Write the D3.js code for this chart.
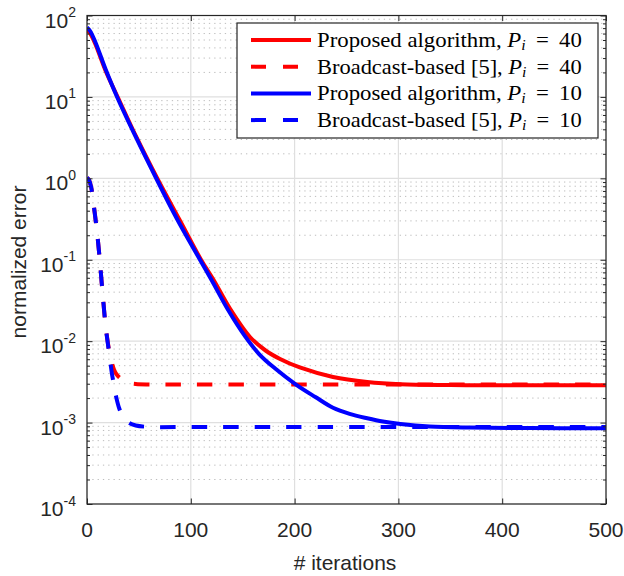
<!DOCTYPE html>
<html>
<head>
<meta charset="utf-8">
<script src="https://cdn.jsdelivr.net/npm/d3@7"></script>
<style>
  body { margin: 0; background: #fff; }
  text { font-family: "Liberation Sans", Arial, sans-serif; fill: #262626; }
  .legend text { font-family: "Liberation Serif", "Times New Roman", serif; fill: #000; }
</style>
</head>
<body>
<svg id="chart" width="624" height="576"></svg>
<script>
// proposed algorithm, P_i = 40 (red solid)
const propIter40 = [0, 3, 8, 18, 30, 48, 68, 89, 110, 122, 138, 157, 172, 186, 205, 237, 270, 302, 350, 398, 500];
const propErr40 = [66.4, 60.1, 44.7, 20.8, 9.7, 3.13, 0.981, 0.312, 0.0993, 0.0564, 0.0248, 0.01125, 0.00768, 0.00604, 0.00475, 0.00363, 0.00315, 0.00295, 0.00289, 0.00288, 0.00287];

// proposed algorithm, P_i = 10 (blue solid)
const propIter10 = [0, 3, 8, 18, 29, 47, 67, 87, 109, 120, 136, 152, 166, 181, 201, 220, 237, 253, 270, 285, 302, 330, 369, 427, 500];
const propErr10 = [71.3, 64.5, 47.3, 21.7, 9.98, 3.22, 0.981, 0.312, 0.0993, 0.0564, 0.0241, 0.0116, 0.0069, 0.00464, 0.00295, 0.00206, 0.00152, 0.00128, 0.00113, 0.00103, 0.00096, 0.000895, 0.000868, 0.000856, 0.000853];

// broadcast-based [5] curves, both P_i
const bcIter = [0, 2, 4, 6, 8, 10, 12, 14, 16, 18, 20, 22, 24, 26, 28, 31, 35, 40, 47, 60, 100, 500];
const bcErr40 = [1.02, 0.95, 0.78, 0.52, 0.33, 0.2, 0.11, 0.055, 0.028, 0.015, 0.0098, 0.0068, 0.0054, 0.0045, 0.0040, 0.0036, 0.0033, 0.00308, 0.00298, 0.00294, 0.00293, 0.00293];
const bcErr10 = [1.02, 0.95, 0.78, 0.52, 0.33, 0.2, 0.11, 0.055, 0.028, 0.015, 0.0095, 0.0062, 0.004, 0.0029, 0.0021, 0.0015, 0.00115, 0.001, 0.00092, 0.000885, 0.000883, 0.000883];

const xTicks = [0, 100, 200, 300, 400, 500];
const yExponents = [2, 1, 0, -1, -2, -3, -4];
const legendLabels = ["Proposed algorithm, ", "Broadcast-based [5], ", "Proposed algorithm, ", "Broadcast-based [5], "];
const legendP = ["40", "40", "10", "10"];

// plot box
const plotLeft = 87, plotRight = 606, plotTop = 15.5, plotBottom = 504;

const svg = d3.select("#chart");

const x = d3.scaleLinear().domain([0, 500]).range([plotLeft, plotRight]);
const y = d3.scaleLog().domain([1e-4, 1e2]).range([plotBottom, plotTop]);

const majorY = yExponents.map(e => Math.pow(10, e));
const minorY = [];
for (let e = -4; e < 2; e++) {
    for (let m = 2; m <= 9; m++) minorY.push(m * Math.pow(10, e));
}

// grid: minor dotted first, then major solid
const grid = svg.append("g");
grid.selectAll(".minor")
    .data(minorY)
    .enter()
    .append("line")
    .attr("x1", plotLeft).attr("x2", plotRight)
    .attr("y1", d => y(d)).attr("y2", d => y(d))
    .attr("stroke", "#bdbdbd")
    .attr("stroke-width", 1)
    .attr("stroke-dasharray", "1.3,4");

grid.selectAll(".majorH")
    .data(majorY)
    .enter()
    .append("line")
    .attr("x1", plotLeft).attr("x2", plotRight)
    .attr("y1", d => y(d)).attr("y2", d => y(d))
    .attr("stroke", "#dfdfdf")
    .attr("stroke-width", 1.2);

grid.selectAll(".majorV")
    .data(xTicks)
    .enter()
    .append("line")
    .attr("x1", d => x(d)).attr("x2", d => x(d))
    .attr("y1", plotTop).attr("y2", plotBottom)
    .attr("stroke", "#dfdfdf")
    .attr("stroke-width", 1.2);

// data lines
const line = d3.line()
    .x(d => x(d[0]))
    .y(d => y(d[1]))
    .curve(d3.curveCatmullRom.alpha(0.5));

const series = [
    { iter: propIter40, err: propErr40, color: "#ff0000", dash: null },
    { iter: bcIter, err: bcErr40, color: "#ff0000", dash: "15.5,16" },
    { iter: propIter10, err: propErr10, color: "#0000ff", dash: null },
    { iter: bcIter, err: bcErr10, color: "#0000ff", dash: "15.5,16" }
];

svg.append("clipPath").attr("id", "plotclip")
    .append("rect")
    .attr("x", plotLeft).attr("y", plotTop)
    .attr("width", plotRight - plotLeft).attr("height", plotBottom - plotTop);

svg.append("g")
    .attr("clip-path", "url(#plotclip)")
    .selectAll("path")
    .data(series)
    .enter()
    .append("path")
    .attr("d", s => line(s.iter.map((t, i) => [t, s.err[i]])))
    .attr("fill", "none")
    .attr("stroke", s => s.color)
    .attr("stroke-width", 4)
    .attr("stroke-dasharray", s => s.dash);

// axes (ticks pointing inward)
const axisColor = "#262626";
function styleAxis(g) {
    g.select(".domain").remove();
    g.selectAll("line").attr("stroke", axisColor).attr("stroke-width", 1);
}

svg.append("g").attr("transform", `translate(0,${plotBottom})`)
    .call(d3.axisBottom(x).tickValues(xTicks).tickSize(-5.5).tickFormat(""))
    .call(styleAxis);
svg.append("g").attr("transform", `translate(0,${plotTop})`)
    .call(d3.axisTop(x).tickValues(xTicks).tickSize(-5.5).tickFormat(""))
    .call(styleAxis);
svg.append("g").attr("transform", `translate(${plotLeft},0)`)
    .call(d3.axisLeft(y).tickValues(majorY).tickSize(-5.5).tickFormat(""))
    .call(styleAxis);
svg.append("g").attr("transform", `translate(${plotLeft},0)`)
    .call(d3.axisLeft(y).tickValues(minorY).tickSize(-3).tickFormat(""))
    .call(styleAxis);
svg.append("g").attr("transform", `translate(${plotRight},0)`)
    .call(d3.axisRight(y).tickValues(majorY).tickSize(-5.5).tickFormat(""))
    .call(styleAxis);
svg.append("g").attr("transform", `translate(${plotRight},0)`)
    .call(d3.axisRight(y).tickValues(minorY).tickSize(-3).tickFormat(""))
    .call(styleAxis);

// box
svg.append("rect")
    .attr("x", plotLeft).attr("y", plotTop)
    .attr("width", plotRight - plotLeft).attr("height", plotBottom - plotTop)
    .attr("fill", "none")
    .attr("stroke", axisColor)
    .attr("stroke-width", 1.2);

// x tick labels
svg.selectAll(".xlab")
    .data(xTicks)
    .enter()
    .append("text")
    .attr("x", d => x(d))
    .attr("y", 537)
    .attr("text-anchor", "middle")
    .attr("font-size", 21)
    .text(d => d);

// y tick labels with superscripts
const ylab = svg.selectAll(".ylab")
    .data(yExponents)
    .enter()
    .append("text")
    .attr("x", 76)
    .attr("y", d => y(Math.pow(10, d)) + 12)
    .attr("text-anchor", "end")
    .attr("font-size", 21);
ylab.append("tspan").text("10");
ylab.append("tspan")
    .attr("font-size", 14)
    .attr("dy", -10.5)
    .text(d => d);

// axis titles
svg.append("text")
    .attr("x", 345)
    .attr("y", 570)
    .attr("text-anchor", "middle")
    .attr("font-size", 21)
    .text("# iterations");

svg.append("text")
    .attr("transform", "translate(25.5,262) rotate(-90)")
    .attr("text-anchor", "middle")
    .attr("font-size", 21)
    .text("normalized error");

// legend
const legend = svg.append("g").attr("class", "legend");
legend.append("rect")
    .attr("x", 237).attr("y", 23)
    .attr("width", 361).attr("height", 115)
    .attr("fill", "#fff")
    .attr("stroke", axisColor)
    .attr("stroke-width", 1.2);

const rows = legend.selectAll(".row")
    .data(series)
    .enter()
    .append("g")
    .attr("transform", (d, i) => `translate(0,${40 + i * 26.7})`);

rows.append("line")
    .attr("x1", 251).attr("x2", 311)
    .attr("y1", 0).attr("y2", 0)
    .attr("stroke", s => s.color)
    .attr("stroke-width", 4)
    .attr("stroke-dasharray", s => s.dash ? "15,17" : null);

const ltext = rows.append("text")
    .attr("font-size", 20);
ltext.append("tspan").text((d, i) => legendLabels[i]);
ltext.append("tspan").attr("font-style", "italic").text("P");
ltext.append("tspan").attr("font-style", "italic").attr("font-size", 14).attr("dy", 3).text("i");
ltext.append("tspan").attr("dy", -3).text((d, i) => " \u2009=\u2009 " + legendP[i]);

// the LaTeX font in the original is wider; stretch each entry to its width
ltext.each(function () {
    const w = this.getComputedTextLength();
    const s = 265 / w;
    d3.select(this).attr("transform", `translate(317,7) scale(${s},1)`);
});
</script>
</body>
</html>
